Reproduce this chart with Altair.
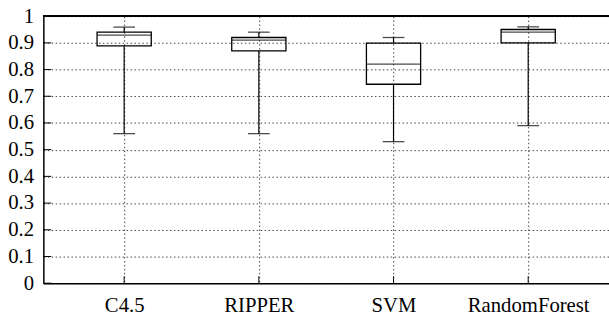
import altair as alt
import pandas as pd

categories = ["C4.5", "RIPPER", "SVM", "RandomForest"]
lower = [0.56, 0.56, 0.53, 0.59]
q1 = [0.889, 0.87, 0.745, 0.90]
median = [0.929, 0.91, 0.82, 0.94]
q3 = [0.94, 0.92, 0.899, 0.95]
upper = [0.959, 0.94, 0.92, 0.96]
y_ticks = [0, 0.1, 0.2, 0.3, 0.4, 0.5, 0.6, 0.7, 0.8, 0.9, 1.0]

df = pd.DataFrame({"cat": categories, "lower": lower, "q1": q1,
                   "median": median, "q3": q3, "upper": upper})
ticks_df = pd.DataFrame({"v": y_ticks})

W, H = 574, 271
FONT = "Liberation Serif"
FS = 21

xaxis = alt.Axis(title=None, labelAngle=0, labelPadding=12, labelFont=FONT, labelFontSize=FS,
                 labelColor="black", ticks=False, domainColor="black", domainWidth=1.5,
                 grid=True, gridDash=[1.5, 2.5], gridColor="#444", gridWidth=1)
xscale = alt.Scale(type="point", padding=0.6)
yscale = alt.Scale(domain=[0, 1], nice=False, zero=True)
yaxis = alt.Axis(title=None, values=y_ticks, format="~g", labelPadding=10, labelOverlap=False,
                 labelFont=FONT, labelFontSize=FS, labelColor="black", ticks=False,
                 domainColor="black", domainWidth=1.5,
                 grid=True, gridDash=[1.5, 2.5], gridColor="#444", gridWidth=1)


def X():
    return alt.X("cat:N", sort=categories, scale=xscale, axis=xaxis)


def Y(f):
    return alt.Y(f, scale=yscale, axis=yaxis)


base = alt.Chart(df)

wlow = base.mark_rule(color="black", strokeWidth=1.2).encode(x=X(), y=Y("lower:Q"), y2="q1:Q")
whigh = base.mark_rule(color="black", strokeWidth=1.2).encode(x=X(), y=Y("q3:Q"), y2="upper:Q")
cap_low = base.mark_tick(color="black", size=22, thickness=1.3, orient="horizontal").encode(
    x=X(), y=Y("lower:Q"))
cap_high = base.mark_tick(color="black", size=22, thickness=1.3, orient="horizontal").encode(
    x=X(), y=Y("upper:Q"))
box = base.mark_bar(size=55, fill="white", fillOpacity=0, stroke="black", strokeWidth=1.3).encode(
    x=X(), y=Y("q1:Q"), y2="q3:Q")
med = base.mark_tick(color="black", size=55, thickness=1.3, orient="horizontal").encode(
    x=X(), y=Y("median:Q"))

ytick_marks = alt.Chart(ticks_df).mark_rule(color="black", strokeWidth=1).encode(
    y=Y("v:Q"), x=alt.value(0), x2=alt.value(8))
xtick_marks = base.mark_rule(color="black", strokeWidth=1).encode(
    x=X(), y=alt.value(H), y2=alt.value(H - 7))
top_line = alt.Chart(ticks_df).mark_rule(color="black", strokeWidth=1.5).encode(
    x=alt.value(0), x2=alt.value(W), y=alt.value(0))

chart = alt.layer(wlow, whigh, box, med, cap_low, cap_high, ytick_marks, xtick_marks, top_line).properties(
    width=W, height=H,
    autosize=alt.AutoSizeParams(type="none"),
    padding={"left": 44, "top": 14, "right": 0, "bottom": 37},
    background="white",
).configure_view(stroke=None)

chart.save("out.html", embed_options={"renderer": "svg", "actions": False})
